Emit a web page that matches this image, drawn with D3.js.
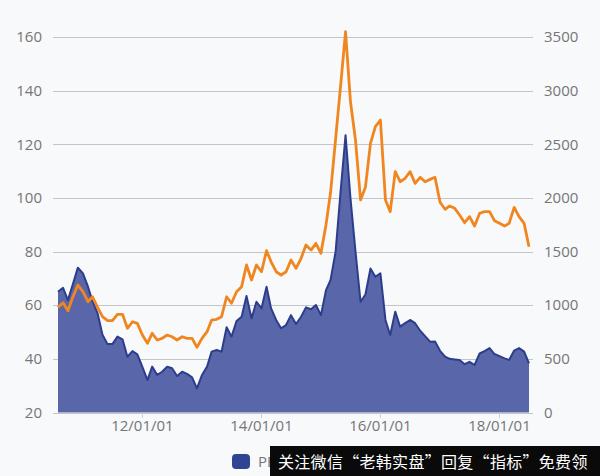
<!DOCTYPE html>
<html><head><meta charset="utf-8">
<script src="https://cdn.jsdelivr.net/npm/d3@7"></script>
<style>
html,body{margin:0;padding:0;background:#f8f9fb;}
svg{display:block;}
</style></head>
<body>
<svg id="chart" width="600" height="476"></svg>
<script>
// ---- data (monthly, 2010-08 .. 2018-07) ----
const startMonth = new Date(2010, 7, 1);
const endMonth = new Date(2018, 7, 1);
const months = d3.timeMonth.range(startMonth, endMonth);
const peValues = [65.0,66.5,61.9,68,74.0,71.9,66.9,61.5,57,49,
  45.5,45.5,48.3,47.3,40.8,42.9,41.7,37,32.1,37.1,
  34.0,35.2,37.1,36.5,33.6,35.2,34.4,33.1,29.0,34.0,
  37.1,42.7,43.3,42.7,51.8,48.3,54.1,55.7,63.4,55.1,
  61.3,58.8,66.9,58.8,54.5,51.4,52.6,56.3,53.0,55.7,
  59.2,58.5,60.1,56.3,65.6,69.4,80,102,123.4,100,
  80,61.3,64,73.7,70.6,71.9,54.5,48.9,57.6,52.0,
  53.3,54.5,53.3,50.5,48.5,46.4,46.5,43,40.8,40.0,
  39.8,39.6,38.0,38.9,37.7,42.0,42.9,44.0,41.8,41.0,
  40.2,39.6,43.1,44.0,42.7,38.3];
const indexValues = [980,1023,949,1080,1188,1126,1033,1079,980,893,
  856,856,915,915,785,846,831,722,645,738,
  676,691,722,706,676,706,691,691,608,691,
  753,862,869,893,1079,1018,1126,1173,1375,1235,
  1375,1312,1508,1405,1312,1282,1312,1421,1344,1437,
  1561,1514,1577,1484,1750,2050,2550,3036,3549,2900,
  2540,1981,2100,2509,2664,2726,1981,1872,2245,2151,
  2183,2245,2136,2192,2151,2173,2192,1960,1894,1925,
  1903,1841,1769,1825,1738,1857,1872,1872,1788,1763,
  1738,1763,1912,1825,1763,1545];
const leftTicks = [20,40,60,80,100,120,140,160];
const rightTicks = [0,500,1000,1500,2000,2500,3000,3500];
const xTickDates = [new Date(2012,0,1), new Date(2014,0,1), new Date(2016,0,1), new Date(2018,0,1)];
const legendLabels = ["PE"];
const watermarkText = "关注微信“老韩实盘”回复“指标”免费领";

const data = months.map((d,i)=>({date:d, pe:peValues[i], idx:indexValues[i]}));

const svg = d3.select("#chart");
const font = "'Open Sans', 'Noto Sans', sans-serif";
const gridLeft = 53, gridRight = 533;

const x = d3.scaleTime().domain([months[0], months[months.length-1]]).range([58, 529]);
const yL = d3.scaleLinear().domain([20,160]).range([412.5, 37]);
const yR = d3.scaleLinear().domain([0,3500]).range([412.5, 37]);

svg.append("rect").attr("width",600).attr("height",476).attr("fill","#f8f9fb");

// grid lines
svg.append("g").selectAll("line").data(leftTicks).join("line")
  .attr("x1",gridLeft).attr("x2",gridRight)
  .attr("y1",d=>Math.round(yL(d))+0.5).attr("y2",d=>Math.round(yL(d))+0.5)
  .attr("stroke","#c4c5c9").attr("stroke-width",1.2);

// left axis labels
svg.append("g").selectAll("text").data(leftTicks).join("text")
  .attr("x",42).attr("y",d=>yL(d)).attr("dy","0.35em")
  .attr("text-anchor","end").attr("font-family",font).attr("font-size",15)
  .attr("fill","#757575").text(d=>d);

// right axis labels
svg.append("g").selectAll("text").data(rightTicks).join("text")
  .attr("x",544).attr("y",d=>yR(d)).attr("dy","0.35em")
  .attr("text-anchor","start").attr("font-family",font).attr("font-size",15)
  .attr("fill","#757575").text(d=>d);

// area (PE)
const area = d3.area().x(d=>x(d.date)).y0(yL(20)).y1(d=>yL(d.pe));
svg.append("path").datum(data).attr("d",area).attr("fill","#5a66aa");
const peLine = d3.line().x(d=>x(d.date)).y(d=>yL(d.pe));
svg.append("path").datum(data).attr("d",peLine).attr("fill","none")
  .attr("stroke","#2c3d8c").attr("stroke-width",2).attr("stroke-linejoin","round");

// index line
const idxLine = d3.line().x(d=>x(d.date)).y(d=>yR(d.idx));
svg.append("path").datum(data).attr("d",idxLine).attr("fill","none")
  .attr("stroke","#f0861f").attr("stroke-width",2.8).attr("stroke-linejoin","round");

// x axis ticks + labels
const fmt = d3.timeFormat("%y/%m/%d");
svg.append("g").selectAll("line").data(xTickDates).join("line")
  .attr("x1",d=>x(d)).attr("x2",d=>x(d)).attr("y1",413).attr("y2",418)
  .attr("stroke","#d0d0d0");
svg.append("g").selectAll("text").data(xTickDates).join("text")
  .attr("x",d=>x(d)).attr("y",426).attr("dy","0.35em")
  .attr("text-anchor","middle").attr("font-family",font).attr("font-size",15)
  .attr("fill","#757575").text(d=>fmt(d));

// legend
const lg = svg.append("g");
lg.append("rect").attr("x",232).attr("y",454).attr("width",18).attr("height",15).attr("rx",4)
  .attr("fill","#2f4493");
lg.append("text").attr("x",258).attr("y",462).attr("dy","0.35em")
  .attr("font-family",font).attr("font-size",15).attr("fill","#757575").text(legendLabels[0]);

// watermark banner
svg.append("rect").attr("x",270).attr("y",446).attr("width",330).attr("height",30).attr("fill","#0a0a0a");
svg.append("text").attr("x",278).attr("y",468)
  .attr("font-family","'Noto Sans CJK SC', sans-serif").attr("font-size",16)
  .attr("letter-spacing","0.3px")
  .attr("fill","#ffffff").text(watermarkText);
</script>
</body></html>
